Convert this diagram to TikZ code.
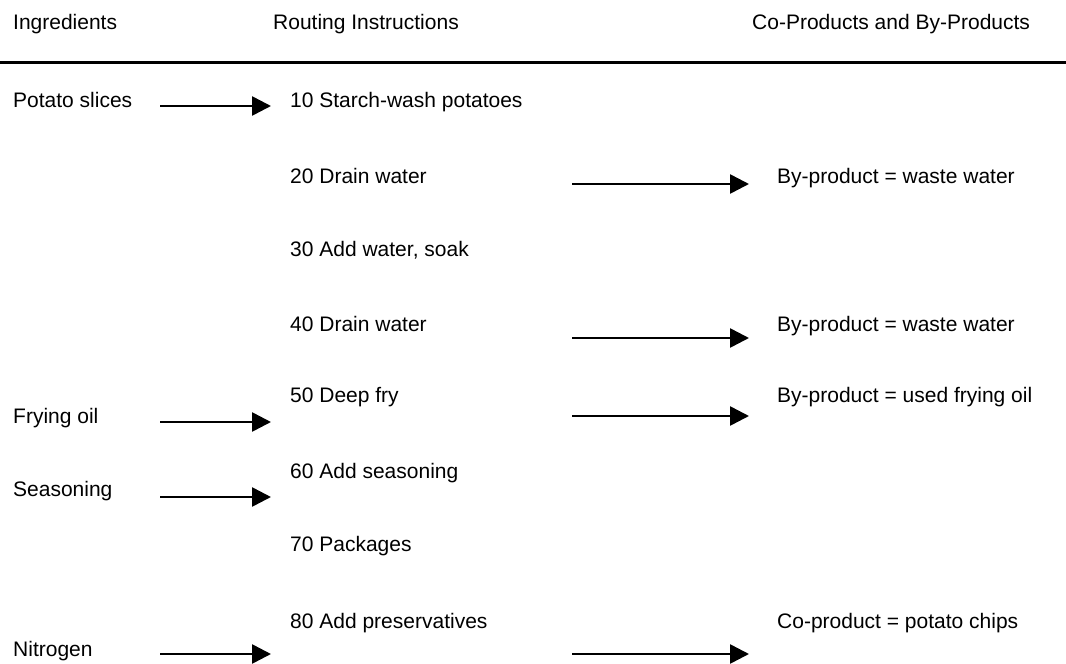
\documentclass[tikz,border=0pt]{standalone}
\usepackage{fontspec}
\setmainfont{Liberation Sans}
\usetikzlibrary{arrows.meta}
\begin{document}
\begin{tikzpicture}[x=1pt,y=-1pt,
  lbl/.style={anchor=base west,inner sep=0pt,font=\fontsize{21}{25}\selectfont},
  flow/.style={line width=2.6pt,-{Triangle[length=19pt,width=19pt]}},
  rule/.style={line width=3pt}]
\useasboundingbox[fill=white] (0,0) rectangle (1066,664);

% column headings
\node[lbl] (hIng) at (13,29) {Ingredients};
\node[lbl] (hRt)  at (273,29) {Routing Instructions};
\node[lbl] (hCo)  at (752,29) {Co-Products and By-Products};
\coordinate (ruleL) at (0,62);
\coordinate (ruleR) at (1066,62);
\draw[rule] (ruleL) -- (ruleR);

% ingredients
\node[lbl] (iPot)  at (13,107) {Potato slices};
\node[lbl] (iOil)  at (13,423) {Frying oil};
\node[lbl] (iSea)  at (13,496) {Seasoning};
\node[lbl] (iNit)  at (13,656) {Nitrogen};

% routing steps
\node[lbl] (s10) at (290,107) {10 Starch-wash potatoes};
\node[lbl] (s20) at (290,183) {20 Drain water};
\node[lbl] (s30) at (290,256) {30 Add water, soak};
\node[lbl] (s40) at (290,331) {40 Drain water};
\node[lbl] (s50) at (290,402) {50 Deep fry};
\node[lbl] (s60) at (290,478) {60 Add seasoning};
\node[lbl] (s70) at (290,551) {70 Packages};
\node[lbl] (s80) at (290,628) {80 Add preservatives};

% co-products and by-products
\node[lbl] (p20) at (777,183) {By-product = waste water};
\node[lbl] (p40) at (777,331) {By-product = waste water};
\node[lbl] (p50) at (777,402) {By-product = used frying oil};
\node[lbl] (p80) at (777,628) {Co-product = potato chips};

% arrow end points
\coordinate (inPotA) at (160,106);  \coordinate (inPotB) at (271,106);
\coordinate (inOilA) at (160,422);  \coordinate (inOilB) at (271,422);
\coordinate (inSeaA) at (160,497);  \coordinate (inSeaB) at (271,497);
\coordinate (inNitA) at (160,654);  \coordinate (inNitB) at (271,654);
\coordinate (out20A) at (572,184);  \coordinate (out20B) at (749,184);
\coordinate (out40A) at (572,338);  \coordinate (out40B) at (749,338);
\coordinate (out50A) at (572,416);  \coordinate (out50B) at (749,416);
\coordinate (out80A) at (572,654);  \coordinate (out80B) at (749,654);

\draw[flow] (inPotA) -- (inPotB);
\draw[flow] (inOilA) -- (inOilB);
\draw[flow] (inSeaA) -- (inSeaB);
\draw[flow] (inNitA) -- (inNitB);
\draw[flow] (out20A) -- (out20B);
\draw[flow] (out40A) -- (out40B);
\draw[flow] (out50A) -- (out50B);
\draw[flow] (out80A) -- (out80B);
\end{tikzpicture}
\end{document}
